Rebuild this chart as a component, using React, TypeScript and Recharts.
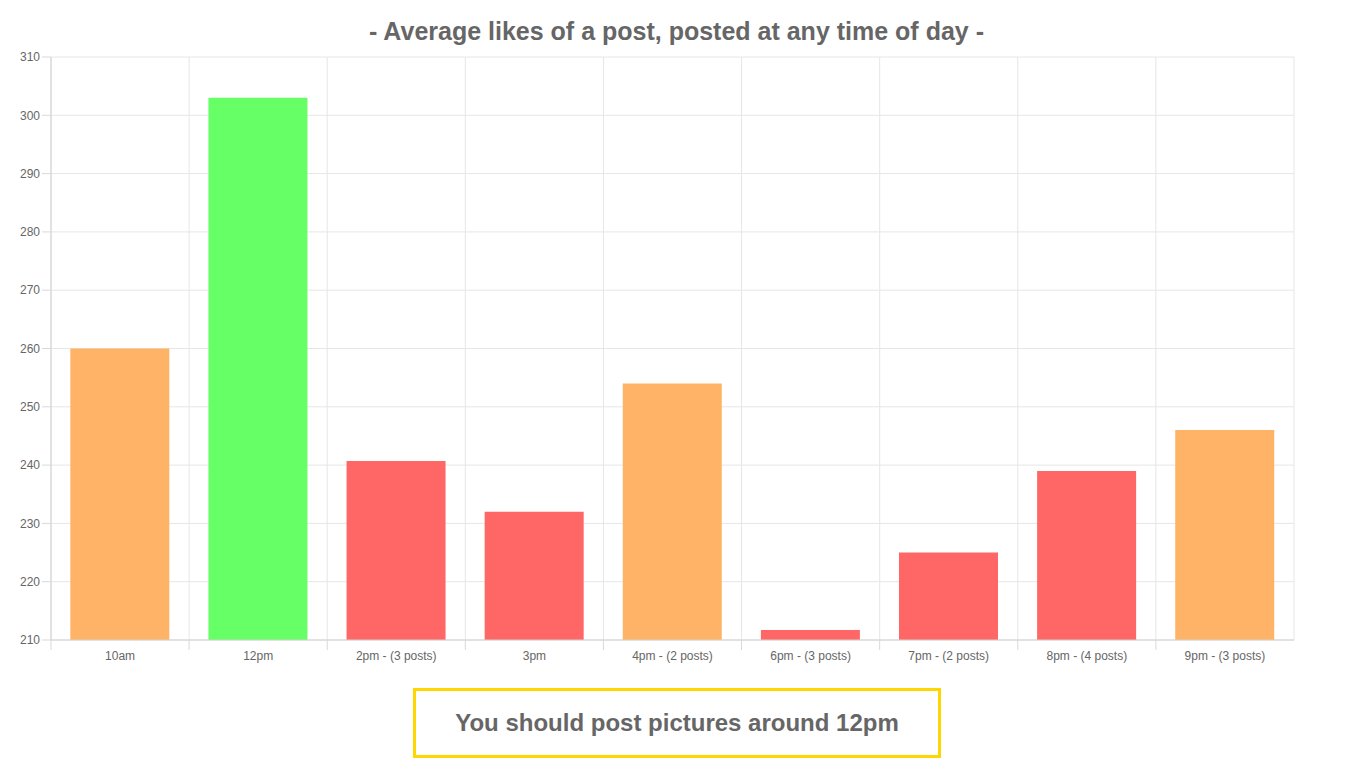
import { BarChart, Bar, XAxis, YAxis, CartesianGrid, Cell } from 'recharts';

const slots = ['10am', '12pm', '2pm - (3 posts)', '3pm', '4pm - (2 posts)', '6pm - (3 posts)', '7pm - (2 posts)', '8pm - (4 posts)', '9pm - (3 posts)'];
const avgLikes = [260, 303, 240.7, 232, 254, 211.7, 225, 239, 246];
const yTicks = [210, 220, 230, 240, 250, 260, 270, 280, 290, 300, 310];

const ORANGE = '#ffb366';
const GREEN = '#66ff66';
const RED = '#ff6666';
const barColors = [ORANGE, GREEN, RED, RED, ORANGE, RED, RED, RED, ORANGE];

const data = slots.map((slot, i) => ({ slot, likes: avgLikes[i] }));

const W = 1347;
const H = 680;
const M = { top: 57, right: 53, left: 0, bottom: 0 };
const Y_W = 51;
const X_H = 40;
const plotW = W - M.left - M.right - Y_W;
const band = plotW / slots.length;

// chart.js-like tick: short line at the left edge of each category, label centred
function XTick(props: any) {
  const { x, y, payload } = props;
  const top = y - 8;
  return (
    <g>
      <line x1={x - band / 2} x2={x - band / 2} y1={top} y2={top + 10} stroke="#d9d9d9" />
      <text x={x} y={top + 20} textAnchor="middle" fill="#666" fontSize={12} fontFamily="'Liberation Sans', Arial, sans-serif">
        {payload.value}
      </text>
    </g>
  );
}

export default function App() {
  return (
    <div style={{ position: 'absolute', left: 0, top: 0, width: W, height: 774, background: '#fff', fontFamily: "'Liberation Sans', Arial, sans-serif" }}>
      <div style={{ position: 'absolute', left: 0, top: 17, width: W + 6, textAlign: 'center', fontSize: 25, fontWeight: 'bold', color: '#666' }}>
        - Average likes of a post, posted at any time of day -
      </div>
      <div style={{ position: 'absolute', left: 0, top: 0 }}>
        <BarChart width={W} height={H} data={data} margin={M} barCategoryGap="14%">
          <CartesianGrid
            stroke="#e6e6e6"
            verticalCoordinatesGenerator={({ offset }: any) =>
              slots.map((_, i) => offset.left + i * (offset.width / slots.length)).concat([offset.left + offset.width])
            }
          />
          <XAxis
            dataKey="slot"
            height={X_H}
            tickLine={false}
            axisLine={{ stroke: '#d0d0d0' }}
            tick={<XTick />}
            interval={0}
          />
          <YAxis
            width={Y_W}
            domain={[210, 310]}
            ticks={yTicks}
            tickSize={9}
            tickLine={{ stroke: '#d9d9d9' }}
            axisLine={{ stroke: '#d0d0d0' }}
            tick={{ fill: '#666', fontSize: 12, fontFamily: "'Liberation Sans', Arial, sans-serif" }}
            allowDataOverflow
          />
          <Bar dataKey="likes" isAnimationActive={false}>
            {data.map((d, i) => (
              <Cell key={d.slot} fill={barColors[i]} />
            ))}
          </Bar>
        </BarChart>
      </div>
      <div style={{ position: 'absolute', left: 413, top: 688, width: 522, height: 64, border: '3px solid #ffd700', display: 'flex', alignItems: 'center', justifyContent: 'center', fontSize: 24, fontWeight: 'bold', color: '#666' }}>
        You should post pictures around 12pm
      </div>
    </div>
  );
}
